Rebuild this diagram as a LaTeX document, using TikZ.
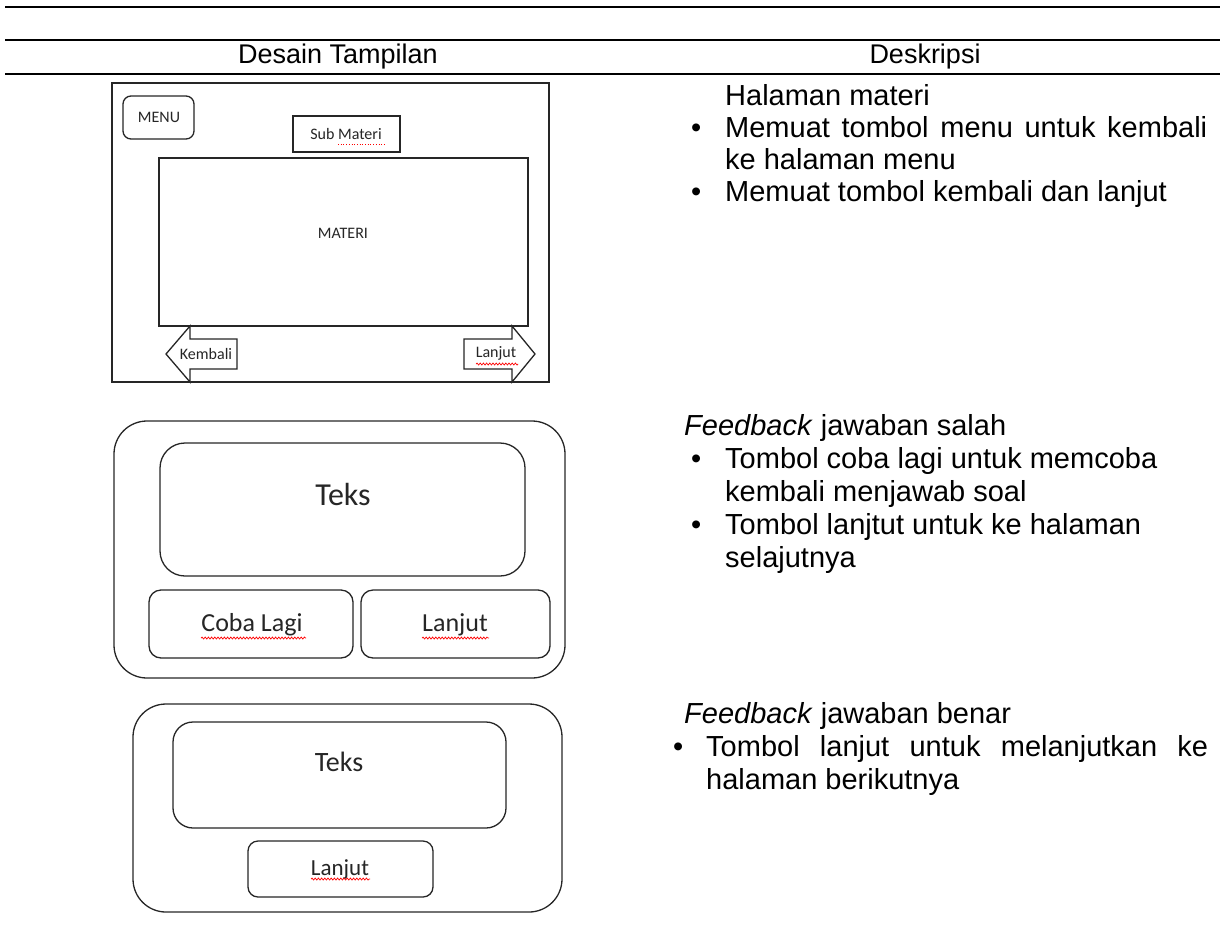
\documentclass[tikz,border=0pt]{standalone}
\usepackage{fontspec}
\setmainfont{Liberation Sans}
\newfontfamily\uifont{Carlito}
\usetikzlibrary{decorations.pathmorphing}

\tikzset{
  ui/.style={draw=black!85, line width=1.3pt},
  uirect/.style={ui, fill=white},
  uitext/.style={font=\uifont\fontsize{#1}{#1}\selectfont, inner sep=0pt, text=black!85},
  desc/.style={font=\fontsize{29}{33}\selectfont, inner sep=0pt, anchor=base west},
  rule/.style={draw=black, line width=2pt},
  squiggle/.style={draw=red, line width=0.7pt, decorate,
    decoration={snake, segment length=3.2pt, amplitude=1pt}},
}

\begin{document}
\begin{tikzpicture}[x=1pt, y=-1pt]
\useasboundingbox (0,0) rectangle (1220,940);

% table rules and header
\draw[rule] (5,7) -- (1220,7);
\draw[rule] (5,40) -- (1220,40);
\draw[rule] (5,74) -- (1220,74);
\node[font=\fontsize{27}{32}\selectfont, inner sep=0pt] (hdesain) at (338,57) {Desain Tampilan};
\node[font=\fontsize{27}{32}\selectfont, inner sep=0pt] (hdesk) at (925,57) {Deskripsi};

% ---------- material page ----------
\draw[ui] (112,83) rectangle (549,382);
\draw[uirect, rounded corners=8pt] (123,96) rectangle (194,139);
\node[uitext=16] (menu) at (159,117) {MENU};
\draw[uirect] (293,116) rectangle (400,152);
\node[uitext=16] (sub) at (346,134) {Sub Materi};
\draw[red, line width=0.7pt, dotted] (338,144) -- (384,144);
\draw[uirect] (159,158) rectangle (528,326);
\node[uitext=16] (materi) at (343,233) {MATERI};
% back arrow
\draw[uirect] (166,354) -- (190,326) -- (190,339) -- (237,339) -- (237,369)
  -- (190,369) -- (190,382) -- cycle;
\node[uitext=16] (kembali) at (206,354) {Kembali};
% next arrow
\draw[uirect] (535,354) -- (512,326) -- (512,339) -- (464,339) -- (464,369)
  -- (512,369) -- (512,382) -- cycle;
\node[uitext=16] (lanjut1) at (496,353) {Lanjut};
\draw[squiggle] (476,364) -- (518,364);

% ---------- wrong answer feedback ----------
\draw[ui, rounded corners=33pt] (114,421) rectangle (565,678);
\draw[uirect, rounded corners=25pt] (160,443) rectangle (525,576);
\node[uitext=32] (teks1) at (343,494) {Teks};
\draw[uirect, rounded corners=12pt] (149,590) rectangle (353,658);
\node[uitext=26] (coba) at (252,625) {Coba Lagi};
\draw[squiggle] (201,638) -- (306,638);
\draw[uirect, rounded corners=12pt] (361,590) rectangle (550,658);
\node[uitext=26] (lanjut2) at (455,625) {Lanjut};
\draw[squiggle] (422,638) -- (489,638);

% ---------- right answer feedback ----------
\draw[ui, rounded corners=33pt] (133,704) rectangle (562,912);
\draw[uirect, rounded corners=20pt] (173,722) rectangle (506,828);
\node[uitext=28] (teks2) at (339,762) {Teks};
\draw[uirect, rounded corners=10pt] (248,841) rectangle (433,897);
\node[uitext=23] (lanjut3) at (340,870) {Lanjut};
\draw[squiggle] (311,879) -- (370,879);

% ---------- descriptions ----------
\node[desc] (d1a) at (725,105) {Halaman materi};
\node[desc] (b1) at (691,137) {•};
\node[desc] (d1b) at (725,137) {\makebox[482pt][s]{Memuat tombol menu untuk kembali}};
\node[desc] (d1c) at (725,169) {ke halaman menu};
\node[desc] (b2) at (691,201) {•};
\node[desc] (d1d) at (725,201) {Memuat tombol kembali dan lanjut};

\node[desc] (d2a) at (684,435) {\textit{Feedback} jawaban salah};
\node[desc] (b3) at (691,468) {•};
\node[desc] (d2b) at (725,468) {Tombol coba lagi untuk memcoba};
\node[desc] (d2c) at (725,501) {kembali menjawab soal};
\node[desc] (b4) at (691,534) {•};
\node[desc] (d2d) at (725,534) {Tombol lanjtut untuk ke halaman};
\node[desc] (d2e) at (725,567) {selajutnya};

\node[desc] (d3a) at (684,723) {\textit{Feedback} jawaban benar};
\node[desc] (b5) at (673,756) {•};
\node[desc] (d3b) at (706,756) {\makebox[502pt][s]{Tombol lanjut untuk melanjutkan ke}};
\node[desc] (d3c) at (706,789) {halaman berikutnya};
\end{tikzpicture}
\end{document}
